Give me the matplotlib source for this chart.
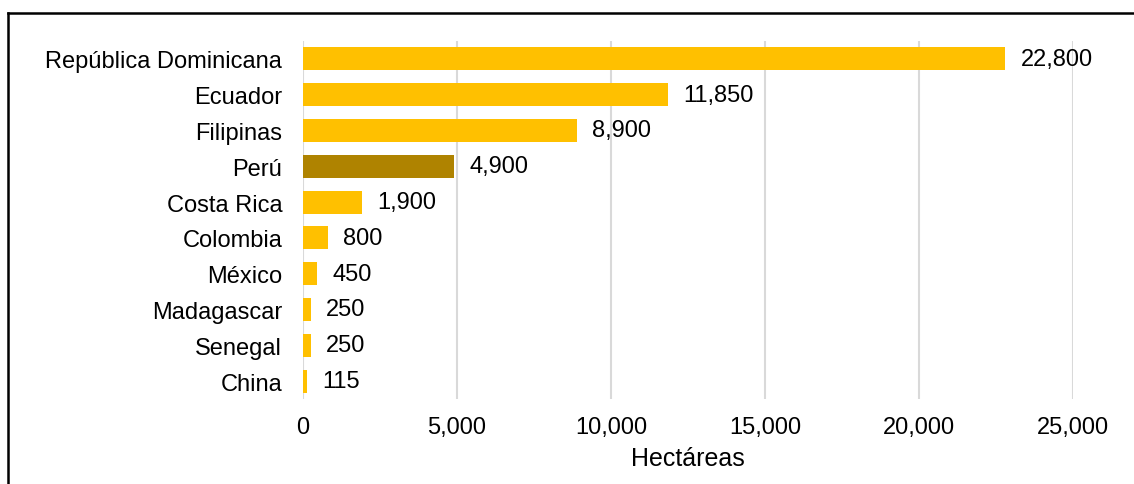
import matplotlib.pyplot as plt
from matplotlib.lines import Line2D
from matplotlib.ticker import FuncFormatter

plt.rcParams["font.family"] = ["Liberation Sans", "DejaVu Sans"]

countries = ["República Dominicana", "Ecuador", "Filipinas", "Perú", "Costa Rica",
             "Colombia", "México", "Madagascar", "Senegal", "China"]
hectares = [22800, 11850, 8900, 4900, 1900, 800, 450, 250, 250, 115]
highlight = "Perú"

GOLD = "#FFC000"
DARK_GOLD = "#AF8300"

fig = plt.figure(figsize=(11.34, 4.85), dpi=100)
ax = fig.add_axes([0.2672, 0.1753, 0.679, 0.7381])

y = list(range(len(countries)))
colors = [DARK_GOLD if c == highlight else GOLD for c in countries]
bars = ax.barh(y, hectares, height=0.64, color=colors, zorder=3)

for bar, v in zip(bars, hectares):
    ax.annotate(f"{v:,}", (bar.get_width(), bar.get_y() + bar.get_height() / 2),
                xytext=(11, 0), textcoords="offset points",
                va="center", ha="left", fontsize=17)

ax.set_xlim(0, 25000)
ax.set_ylim(len(countries) - 0.5, -0.5)
ax.set_yticks(y)
ax.set_yticklabels(countries)
ax.set_xticks(range(0, 25001, 5000))
ax.xaxis.set_major_formatter(FuncFormatter(lambda v, _: f"{int(v):,}"))
ax.tick_params(axis="both", length=0, labelsize=17)
ax.tick_params(axis="y", pad=15)
ax.tick_params(axis="x", pad=12)
ax.set_xlabel("Hectáreas", fontsize=18, labelpad=6)

ax.grid(axis="x", color="#D9D9D9", linewidth=1.5, zorder=0)
for s in ax.spines.values():
    s.set_visible(False)

# frame around the chart (top and left edges)
fig.add_artist(Line2D([8 / 1134, 1], [1 - 14 / 485, 1 - 14 / 485],
                      transform=fig.transFigure, color="black", linewidth=1.8))
fig.add_artist(Line2D([8 / 1134, 8 / 1134], [0, 1 - 14 / 485],
                      transform=fig.transFigure, color="black", linewidth=1.8))

fig.savefig("out.png", dpi=100)
